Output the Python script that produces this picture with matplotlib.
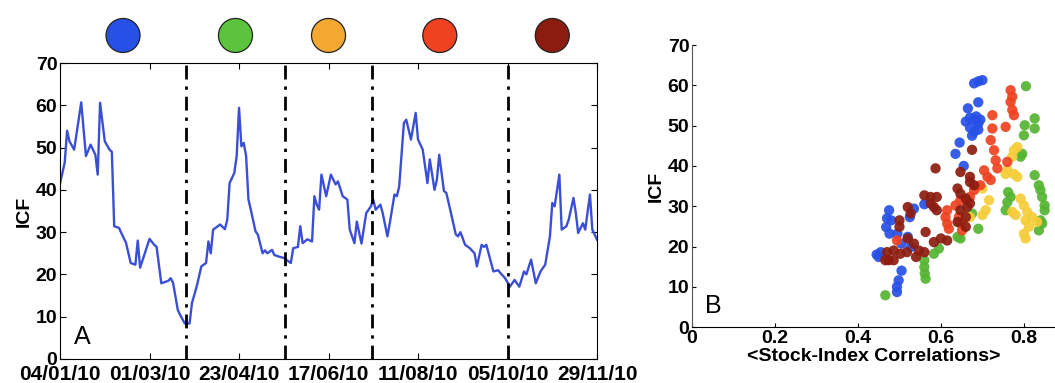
import matplotlib.pyplot as plt

plt.rcParams['font.family'] = ['Liberation Sans', 'DejaVu Sans']

# ICF time series (trading-day index, value)
days = [0, 2, 3, 4, 6, 9, 11, 13, 15, 16, 17, 19, 21, 22, 23, 25, 28, 30, 32, 33,
        34, 36, 38, 40, 41, 43, 46, 47, 48, 50, 51, 53, 55, 56, 58, 60, 62, 63, 64, 65,
        67, 68, 70, 71, 72, 74, 75, 76, 77, 78, 79, 80, 81, 83, 84, 86, 87, 88, 90, 91,
        93, 95, 97, 98, 99, 101, 102, 103, 105, 107, 108, 109, 110, 111, 113, 115, 117, 118, 120, 122,
        123, 125, 126, 128, 130, 132, 133, 134, 136, 137, 139, 140, 142, 143, 144, 146, 147, 149, 151, 152,
        154, 156, 157, 159, 160, 161, 163, 164, 166, 168, 169, 170, 172, 174, 176, 177, 179, 180, 181, 184,
        186, 187, 189, 191, 193, 195, 197, 198, 200, 202, 204, 206, 208, 209, 210, 212, 213, 215, 216, 218,
        219, 220, 222, 223, 225, 226, 228]
icf = [41.5, 46.5, 54, 51.5, 49.5, 60.7, 48, 50.7, 48.3, 43.6, 60.6, 51.5, 49.5, 49, 31.4, 31, 27.5, 22.7, 22.3, 28,
       21.6, 25, 28.4, 27, 26.5, 17.9, 18.5, 19.1, 18, 11.6, 10.4, 8.4, 8.4, 13.2, 17.1, 21.9, 22.7, 27.8, 25, 30.6,
       31.4, 31.8, 30.7, 32.9, 41.6, 44, 48, 59.4, 50.3, 51.1, 48, 37.7, 35.3, 30.2, 29.4, 25, 25.7, 25, 25.8, 24.6,
       24.2, 23.9, 23.1, 22.7, 26.2, 26.5, 31.4, 27.4, 28.3, 27.8, 38.5, 36.5, 35.3, 43.6, 38.5, 43.6, 41.3, 42, 38.5, 37.7,
       30.6, 27.4, 32.5, 27.3, 34.5, 36.1, 37.7, 35.3, 36.5, 34.5, 29, 32.1, 38.9, 38.5, 40.8, 55.8, 56.6, 51.9, 58.2, 51.9,
       49.5, 41.6, 47.2, 40, 42.4, 48.3, 39.7, 39.3, 34.5, 29.5, 29, 30, 27, 26.2, 25, 21.9, 27, 26.5, 27, 20.7,
       21, 20.3, 19.1, 17.1, 18.7, 17.1, 20.7, 20, 23.5, 17.9, 20.7, 22.3, 29, 36.9, 36.1, 43.6, 30.6, 31.4, 33, 38.1,
       34.5, 29.8, 32.1, 30.6, 38.9, 30.6, 28.2]

tick_days = [0, 38, 76, 114, 152, 190, 228]
tick_dates = ['04/01/10', '01/03/10', '23/04/10', '17/06/10', '11/08/10', '05/10/10', '29/11/10']
breaks = [53.5, 95.5, 132.5, 190]
period_colors = ['#2750e6', '#5cc43c', '#f4a832', '#ee4220', '#8c1c10']

# scatter: mean stock-index correlation vs ICF, one group per period
blue_x = [0.68, 0.69, 0.70, 0.69, 0.665, 0.66, 0.67, 0.68, 0.69, 0.67, 0.68, 0.69, 0.675, 0.685, 0.695,
          0.645, 0.635, 0.655, 0.56, 0.535, 0.525, 0.475, 0.47, 0.48, 0.468, 0.476, 0.495, 0.505,
          0.445, 0.455, 0.45, 0.505, 0.498, 0.494, 0.494, 0.52, 0.528]
blue_y = [60.5, 61, 61.3, 55.8, 54.3, 51, 52, 51.5, 50.5, 49.5, 48.5, 49, 47.5, 52.3, 51.5,
          45.8, 43, 40, 30.5, 29.4, 27.3, 29, 27, 26.5, 24.8, 23.2, 23.2, 20.7,
          18, 18.6, 17.4, 14, 11.6, 10, 8.7, 22.4, 19.9]
green_x = [0.805, 0.826, 0.802, 0.80, 0.826, 0.796, 0.792, 0.826, 0.836, 0.84, 0.844, 0.85, 0.85,
           0.84, 0.844, 0.836, 0.762, 0.768, 0.76, 0.756, 0.675, 0.69, 0.64, 0.647, 0.583, 0.595,
           0.56, 0.56, 0.561, 0.563, 0.466]
green_y = [59.8, 51.8, 50.1, 47.6, 49.3, 43, 42.3, 37.7, 35.2, 34, 32.3, 30.2, 29,
           26.5, 25.7, 24, 33.5, 32.3, 31, 29, 28.2, 24.4, 22.4, 22, 18.2, 19.5,
           16.6, 14.9, 13.3, 12, 7.9]
yellow_x = [0.784, 0.776, 0.772, 0.76, 0.756, 0.776, 0.784, 0.70, 0.716, 0.708, 0.70, 0.67,
            0.772, 0.78, 0.792, 0.80, 0.808, 0.804, 0.812, 0.80, 0.804, 0.82, 0.832]
yellow_y = [44.7, 43.9, 42.3, 39, 38, 38, 37.3, 34.4, 31.5, 29, 27.8, 27.3,
            28.6, 27.8, 31.9, 30.2, 28.6, 26.5, 24.9, 23.2, 22, 27.3, 26.1]
red_x = [0.768, 0.772, 0.768, 0.772, 0.776, 0.756, 0.724, 0.724, 0.72, 0.728, 0.732, 0.736, 0.76,
         0.704, 0.712, 0.72, 0.695, 0.68, 0.67, 0.647, 0.635, 0.615, 0.611, 0.615, 0.619,
         0.643, 0.647, 0.651, 0.494]
red_y = [58.8, 57.2, 55.9, 53.9, 52.6, 49.7, 52.6, 49.3, 46.4, 43.9, 41.4, 39.4, 41,
         38.9, 37.3, 36.5, 35.2, 34, 32.3, 31.5, 30.2, 29, 27.3, 25.7, 24.4,
         27.3, 25.7, 24, 21.5]
dark_x = [0.675, 0.587, 0.647, 0.67, 0.67, 0.68, 0.64, 0.647, 0.66, 0.67, 0.663, 0.647, 0.66, 0.64,
          0.66, 0.56, 0.575, 0.59, 0.575, 0.583, 0.59, 0.52, 0.527, 0.50, 0.50, 0.563,
          0.583, 0.60, 0.615, 0.52, 0.535, 0.547, 0.56, 0.54, 0.47, 0.486, 0.502, 0.518,
          0.474, 0.466, 0.486]
dark_y = [44, 39.4, 38.5, 37.3, 36, 35.2, 34.4, 33.1, 31.9, 30.7, 29.8, 29, 27.3, 26.1,
          24.9, 32.7, 32.3, 32.3, 30.7, 29.8, 29, 29.8, 28.2, 26.5, 24.9, 23.6,
          21.1, 22, 21.5, 22, 20.7, 19, 18.6, 17.4, 18.6, 19, 18.2, 18.6,
          16.6, 16.6, 16.6]

fig = plt.figure(figsize=(10.55, 3.83), dpi=100)

# --- panel A: ICF over time ---
ax = fig.add_axes([0.0569, 0.0627, 0.509, 0.7728])
ax.plot(days, icf, color='#3b4fd6', lw=1.7)
for b in breaks:
    ax.axvline(b, color='black', lw=2, linestyle=(0, (5, 2.5, 1.2, 2.5)))
ax.set_xlim(0, 228)
ax.set_ylim(0, 70)
ax.set_xticks(tick_days)
ax.set_xticklabels(tick_dates)
ax.set_yticks(range(0, 71, 10))
ax.tick_params(direction='in', top=True, right=True, length=4, pad=2)
ax.tick_params(axis='x', pad=4)
for lab in ax.get_xticklabels():
    lab.set_fontsize(15)
    lab.set_fontweight('bold')
for lab in ax.get_yticklabels():
    lab.set_fontsize(14)
    lab.set_fontweight('bold')
ax.set_ylabel('ICF', fontsize=14, fontweight='bold', labelpad=2)
ax.text(6, 3.5, 'A', fontsize=18)

# period markers above the plot
edges = [0] + breaks + [228]
mids = [(edges[i] + edges[i + 1]) / 2 for i in range(5)]
ax.scatter(mids, [1.093] * 5, s=600, c=period_colors, edgecolors='#222222',
           linewidths=0.9, transform=ax.get_xaxis_transform(), clip_on=False)

# --- panel B: ICF vs correlation ---
bx = fig.add_axes([0.656, 0.146, 0.344, 0.7363])
for xs, ys, c in [(blue_x, blue_y, period_colors[0]), (green_x, green_y, '#55b432'),
                  (yellow_x, yellow_y, '#f5cc38'), (red_x, red_y, period_colors[3]),
                  (dark_x, dark_y, period_colors[4])]:
    bx.scatter(xs, ys, s=55, color=c, edgecolors='none', alpha=0.92)
bx.set_xlim(0, 0.875)
bx.set_ylim(0, 70)
bx.set_xticks([0, 0.2, 0.4, 0.6, 0.8])
bx.set_xticklabels(['0', '0.2', '0.4', '0.6', '0.8'])
bx.set_yticks(range(0, 71, 10))
bx.spines['top'].set_visible(False)
bx.spines['right'].set_visible(False)
bx.spines['left'].set_color('#555555')
bx.tick_params(direction='in', length=3, pad=2)
for lab in bx.get_xticklabels() + bx.get_yticklabels():
    lab.set_fontsize(14)
    lab.set_fontweight('bold')
bx.set_ylabel('ICF', fontsize=14, fontweight='bold', labelpad=2)
bx.set_xlabel('<Stock-Index Correlations>', fontsize=14, fontweight='bold', labelpad=1)
bx.text(0.03, 3.5, 'B', fontsize=18)

fig.savefig('out.png', dpi=100)
